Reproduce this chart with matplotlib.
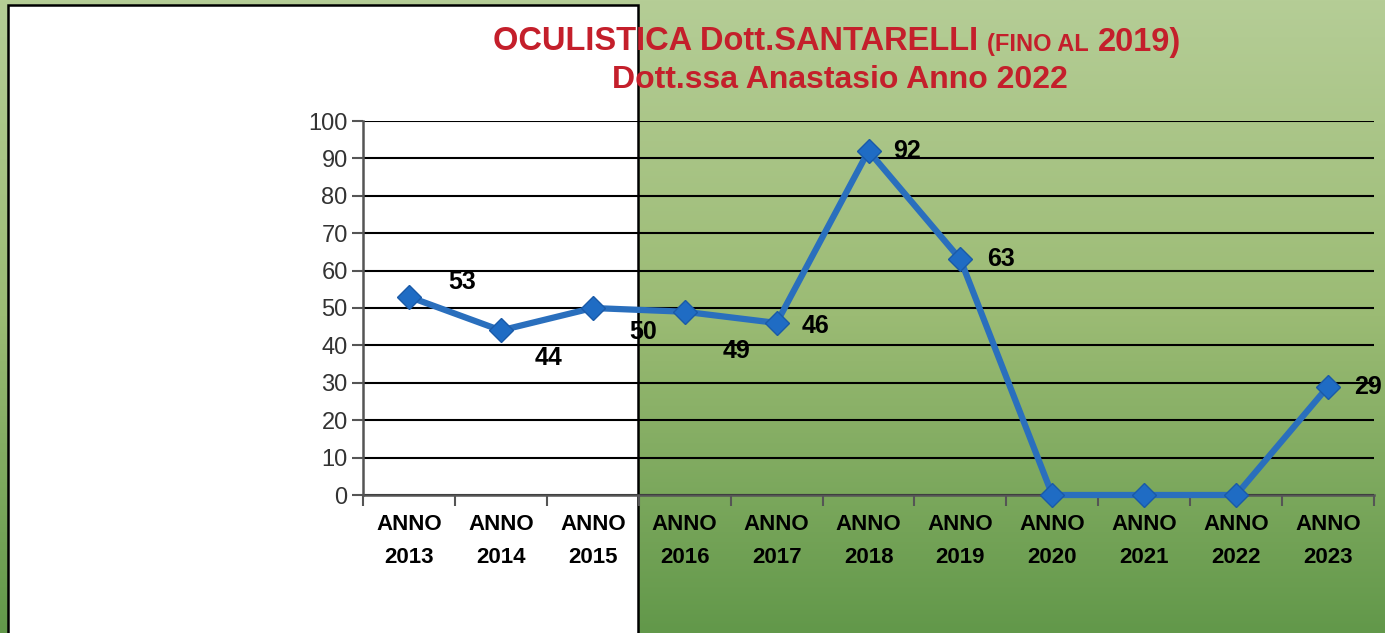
import numpy as np
import matplotlib.pyplot as plt
from matplotlib.colors import LinearSegmentedColormap
from matplotlib.patches import Rectangle

# data
years = ["ANNO\n2013", "ANNO\n2014", "ANNO\n2015", "ANNO\n2016", "ANNO\n2017", "ANNO\n2018",
         "ANNO\n2019", "ANNO\n2020", "ANNO\n2021", "ANNO\n2022", "ANNO\n2023"]
visite = [53, 44, 50, 49, 46, 92, 63, 0, 0, 0, 29]
# label offsets in points (dx, dy), as placed in the original
label_offsets = [(38, 11), (34, -20), (36, -17), (37, -28), (28, -2), (28, 0), (29, 0),
                 None, None, None, (29, 0)]

plt.rcParams['font.family'] = ['Liberation Sans', 'DejaVu Sans']

fig = plt.figure(figsize=(13.85, 6.33), dpi=100)

# background: green vertical gradient + white panel on the left
bg = fig.add_axes([0, 0, 1, 1], zorder=0)
cmap = LinearSegmentedColormap.from_list('g', ['#62984a', '#9bbb74', '#b5cd96'])
grad = np.linspace(0, 1, 256).reshape(-1, 1)
bg.imshow(grad, cmap=cmap, aspect='auto', extent=[0, 1385, 0, 633], origin='lower')
bg.add_patch(Rectangle((8, -5), 630, 633, facecolor='white', edgecolor='black', lw=1.8))
bg.set_xlim(0, 1385)
bg.set_ylim(0, 633)
bg.axis('off')

ax = fig.add_axes([363 / 1385, 138 / 633, 1011 / 1385, 374 / 633], zorder=1)
ax.patch.set_alpha(0)

x = np.arange(len(visite))
ax.plot(x, visite, color='#2a6fbd', lw=4.5, marker='D', markersize=12,
        markerfacecolor='#1f6cc4', markeredgecolor='#1a5aa8', zorder=3, clip_on=False)

for xi, v, off in zip(x, visite, label_offsets):
    if off is None:
        continue
    ax.annotate(str(v), (xi, v), xytext=off, textcoords='offset points',
                ha='center', va='center', fontsize=18, fontweight='bold', color='black')

ax.set_xlim(-0.5, len(visite) - 0.5)
ax.set_ylim(0, 100)
ax.set_yticks(np.arange(0, 101, 10))
ax.yaxis.grid(True, color='black', lw=1.5)
ax.set_axisbelow(True)

# tick marks between categories, labels at the centres
ax.set_xticks(np.arange(-0.5, len(visite), 1))
ax.set_xticklabels([])
ax.set_xticks(x, minor=True)
ax.set_xticklabels(years, minor=True, fontsize=16, fontweight='bold', linespacing=1.7)
ax.tick_params(axis='x', which='major', length=8, width=1.5, color='#555555')
ax.tick_params(axis='x', which='minor', length=0, pad=14)
ax.tick_params(axis='y', length=8, width=1.5, color='#555555', labelsize=17,
               labelcolor='#333333', pad=3)

for s in ['top', 'right']:
    ax.spines[s].set_visible(False)
for s in ['left', 'bottom']:
    ax.spines[s].set_color('#555555')
    ax.spines[s].set_linewidth(1.8)

# title: pieces of different size chained on one line
red = '#c41f2b'
renderer = fig.canvas.get_renderer()
pieces = [("OCULISTICA Dott.SANTARELLI", 23.5, 42), ("(FINO AL", 17, 44), ("2019)", 23.5, 42)]
xpos = 493 / 1385
for txt, fs, ypx in pieces:
    t = fig.text(xpos, 1 - ypx / 633, txt, fontsize=fs, fontweight='bold',
                 color=red, ha='left', va='center')
    bb = t.get_window_extent(renderer)
    xpos = (bb.x1 + 9) / 1385
fig.text(840 / 1385, 1 - 80 / 633, "Dott.ssa Anastasio Anno 2022", fontsize=23,
         fontweight='bold', color=red, ha='center', va='center')

plt.savefig('out.png', dpi=100)
